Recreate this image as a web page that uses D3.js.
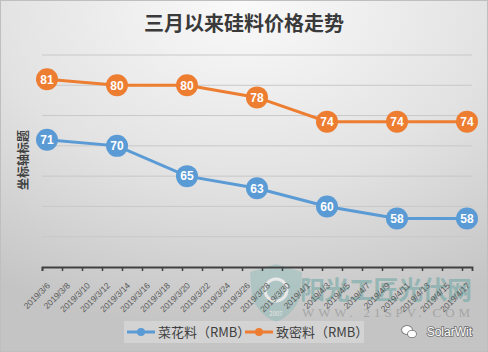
<!DOCTYPE html>
<html>
<head>
<meta charset="utf-8">
<script src="https://cdn.jsdelivr.net/npm/d3@7"></script>
<style>
  body { margin: 0; padding: 0; }
  .chart { width: 488px; height: 352px; }
</style>
</head>
<body>
<div class="chart"></div>
<script>
// sizes
var width = 488;
var height = 352;

// data
var dates = ["2019/3/6", "2019/3/13", "2019/3/20", "2019/3/27", "2019/4/3", "2019/4/10", "2019/4/17"];
var caihua = [71, 70, 65, 63, 60, 58, 58];
var zhimi = [81, 80, 80, 78, 74, 74, 74];
var seriesNames = ["菜花料（RMB）", "致密料（RMB）"];
var yTicks = [55, 60, 65, 70, 75, 80, 85];

var blue = "#5B9BD5";
var orange = "#ED7D31";

var parse = d3.utcParse("%Y/%m/%d");
var fmt = d3.utcFormat("%Y/%-m/%-d");
var pts = dates.map(parse);

var svg = d3.select(".chart")
            .append("svg")
            .attr("width", width)
            .attr("height", height)
            .style("font-family", "'Noto Sans CJK SC', 'Noto Sans', sans-serif");

// background gradient
var defs = svg.append("defs");
var grad = defs.append("radialGradient")
               .attr("id", "bg")
               .attr("cx", "50%").attr("cy", "0%")
               .attr("r", "95%");
grad.append("stop").attr("offset", "0%").attr("stop-color", "#fafafa");
grad.append("stop").attr("offset", "55%").attr("stop-color", "#e2e2e2");
grad.append("stop").attr("offset", "100%").attr("stop-color", "#c4c4c4");

svg.append("rect")
   .attr("x", 0.5).attr("y", 0.5)
   .attr("width", width - 1).attr("height", height - 1)
   .attr("fill", "url(#bg)")
   .attr("stroke", "#bfbfbf");

// scales
var xScale = d3.scaleUtc()
               .domain([parse("2019/3/6"), parse("2019/4/18")])
               .range([42, 472]);
var yScale = d3.scaleLinear()
               .domain([50, 85])
               .range([267, 55]);
var half = 12 * 3600 * 1000;
var xPos = d => xScale(new Date(+d + half));

// grid
svg.append("g")
   .selectAll("line")
   .data(yTicks)
   .enter()
   .append("line")
   .attr("x1", 42).attr("x2", 472)
   .attr("y1", d => yScale(d)).attr("y2", d => yScale(d))
   .attr("stroke", "#c8c8c8")
   .attr("stroke-width", 1);

// watermark (drawn under the axis labels)
var wm = svg.append("g").attr("opacity", 0.55);
wm.append("path")
  .attr("d", "M250,272 L276,264 L302,272 L300,298 Q292,316 276,322 Q260,316 252,298 Z")
  .attr("fill", "#7fb8b4")
  .attr("opacity", 0.7);
wm.append("circle")
  .attr("cx", 276).attr("cy", 290).attr("r", 11)
  .attr("fill", "none").attr("stroke", "#ffffff").attr("stroke-width", 3);
wm.append("text")
  .attr("x", 276).attr("y", 316)
  .attr("text-anchor", "middle")
  .style("font-size", "6px")
  .attr("fill", "#ffffff")
  .text("2007");
wm.append("text")
  .attr("x", 300).attr("y", 299)
  .attr("textLength", 172)
  .style("font-size", "25px")
  .style("font-weight", "bold")
  .attr("fill", "#6aa6a2")
  .text("阳光工匠光伏网");
wm.append("text")
  .attr("x", 302).attr("y", 317)
  .style("font-size", "13px")
  .style("font-family", "'Liberation Serif', serif")
  .attr("fill", "#8c8c8c")
  .attr("textLength", 168)
  .text("WWW. 21SPV. COM");

// x axis
var tickDates = d3.utcDay.range(parse("2019/3/6"), parse("2019/4/18"), 2);
var xAxis = d3.axisBottom(xScale)
              .tickValues(tickDates)
              .tickSize(4)
              .tickSizeOuter(4)
              .tickFormat(fmt);

var gx = svg.append("g")
            .attr("transform", "translate(0," + yScale(50) + ")")
            .call(xAxis);
gx.select(".domain").attr("stroke", "#404040").attr("stroke-width", 1.8);
gx.selectAll(".tick line").attr("stroke", "#404040").attr("stroke-width", 1.5);
gx.selectAll(".tick text")
  .attr("fill", "#595959")
  .style("font-size", "8.5px")
  .style("font-family", "'Liberation Sans', sans-serif")
  .attr("text-anchor", "end")
  .attr("dy", "0.35em")
  .attr("transform", "translate(6,17) rotate(-45)")
  .attr("x", 0).attr("y", 0);

// lines
var line = d3.line()
             .x((d, i) => xPos(pts[i]))
             .y(d => yScale(d));

[[caihua, blue], [zhimi, orange]].forEach(function (s) {
  svg.append("path")
     .datum(s[0])
     .attr("d", line)
     .attr("fill", "none")
     .attr("stroke", s[1])
     .attr("stroke-width", 3);

  var g = svg.append("g");
  g.selectAll("circle")
   .data(s[0])
   .enter()
   .append("circle")
   .attr("cx", (d, i) => xPos(pts[i]))
   .attr("cy", d => yScale(d))
   .attr("r", 11)
   .attr("fill", s[1]);
  g.selectAll("text")
   .data(s[0])
   .enter()
   .append("text")
   .attr("x", (d, i) => xPos(pts[i]))
   .attr("y", d => yScale(d))
   .attr("dy", "0.36em")
   .attr("text-anchor", "middle")
   .attr("fill", "#ffffff")
   .style("font-size", "12px")
   .style("font-weight", "bold")
   .style("font-family", "'Liberation Sans', sans-serif")
   .text(d => d);
});

// title
svg.append("text")
   .attr("x", 244)
   .attr("y", 31)
   .attr("text-anchor", "middle")
   .attr("fill", "#3a3a3a")
   .style("font-size", "20px")
   .style("font-weight", "bold")
   .text("三月以来硅料价格走势");

// y axis title
svg.append("text")
   .attr("transform", "translate(28,160) rotate(-90)")
   .attr("text-anchor", "middle")
   .attr("fill", "#404040")
   .style("font-size", "12px")
   .style("font-weight", "bold")
   .text("坐标轴标题");

// legend
var lg = svg.append("g");
lg.append("rect")
  .attr("x", 124).attr("y", 321)
  .attr("width", 240).attr("height", 22)
  .attr("fill", "#ffffff")
  .attr("opacity", 0.25);
var legendX = [127, 245];
[blue, orange].forEach(function (c, i) {
  lg.append("line")
    .attr("x1", legendX[i]).attr("x2", legendX[i] + 28)
    .attr("y1", 332).attr("y2", 332)
    .attr("stroke", c).attr("stroke-width", 3);
  lg.append("circle")
    .attr("cx", legendX[i] + 14).attr("cy", 332).attr("r", 4)
    .attr("fill", c);
  lg.append("text")
    .attr("x", legendX[i] + 31).attr("y", 332)
    .attr("dy", "0.36em")
    .attr("fill", "#404040")
    .style("font-size", "13px")
    .text(seriesNames[i]);
});

// wechat mark
var wc = svg.append("g")
            .attr("fill", "#ffffff")
            .attr("stroke", "#707070")
            .attr("stroke-width", 1.6)
            .style("paint-order", "stroke");
wc.append("ellipse").attr("cx", 407).attr("cy", 330).attr("rx", 5).attr("ry", 4);
wc.append("ellipse").attr("cx", 412).attr("cy", 334).attr("rx", 4).attr("ry", 3.3);
wc.append("text")
  .attr("x", 472).attr("y", 336)
  .attr("text-anchor", "end")
  .style("font-size", "12px")
  .style("font-family", "'Liberation Sans', sans-serif")
  .text("SolarWit");
</script>
</body>
</html>
